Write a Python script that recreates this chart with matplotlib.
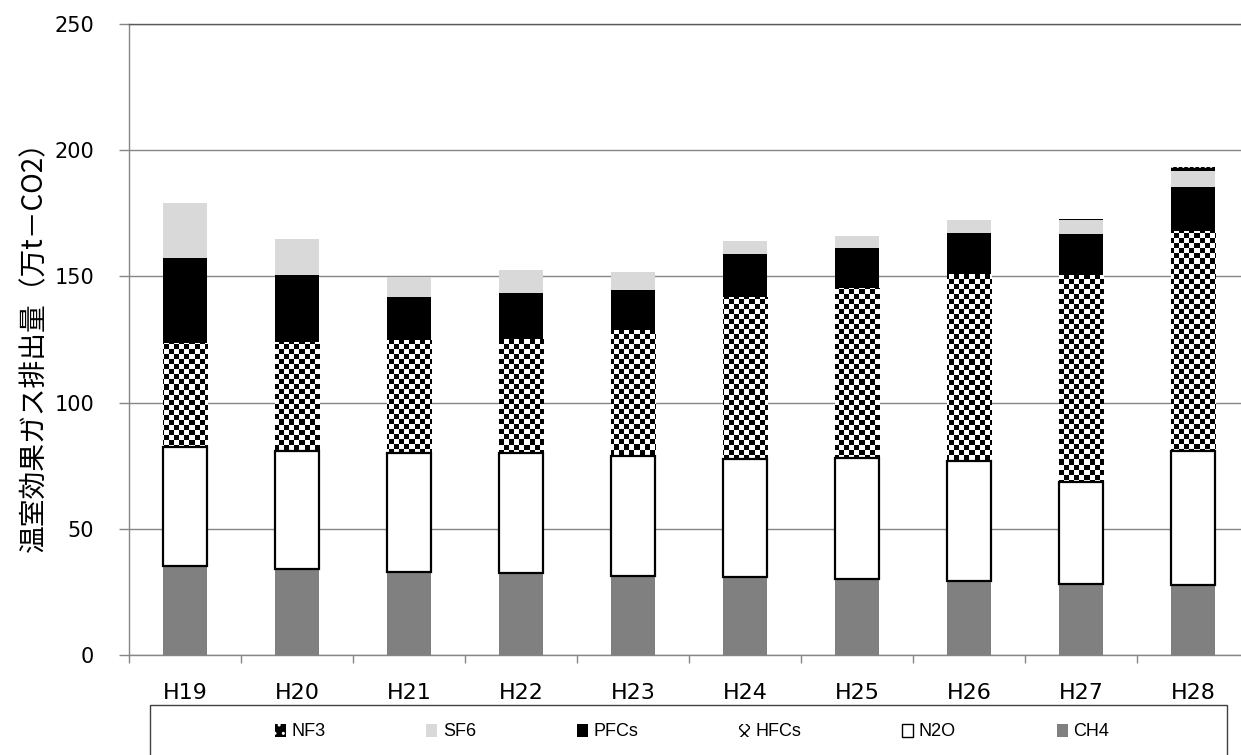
import numpy as np
import matplotlib
matplotlib.use("Agg")
import matplotlib.pyplot as plt
from matplotlib.patches import Patch, Rectangle
from matplotlib.colors import ListedColormap

# ---- data (万t-CO2) ----
cats = ['H19', 'H20', 'H21', 'H22', 'H23', 'H24', 'H25', 'H26', 'H27', 'H28']
ch4 = [35.3, 34.0, 32.9, 32.4, 31.3, 30.8, 30.2, 29.2, 28.3, 27.9]
n2o = [47.2, 46.8, 47.0, 47.6, 47.5, 46.9, 47.9, 47.8, 40.2, 52.8]
hfcs = [41.0, 43.1, 44.9, 45.2, 50.1, 64.0, 67.2, 73.8, 82.1, 87.3]
pfcs = [33.8, 26.5, 16.9, 18.3, 15.6, 17.1, 16.1, 16.5, 16.2, 17.5]
sf6 = [21.9, 14.3, 8.2, 9.0, 7.2, 5.3, 4.6, 5.2, 5.5, 6.4]
nf3 = [0, 0, 0, 0, 0, 0, 0, 0, 0.4, 1.3]
yticks = [0, 50, 100, 150, 200, 250]
ylabel = '温室効果ガス排出量（万t－CO2）'

W, H = 1241, 755
fig = plt.figure(figsize=(W / 100, H / 100), dpi=100)
ax = fig.add_axes([129 / W, 100 / H, 1120 / W, 631 / H])
ax.set_autoscale_on(False)
ax.set_xlim(-0.5, len(cats) - 0.5)
ax.set_ylim(0, 250)

x = np.arange(len(cats))
bw = 0.40
bottom = np.zeros(len(cats))

ax.bar(x, ch4, bw, bottom=bottom, color='#808080', lw=0, zorder=2)
bottom += np.array(ch4)
ax.bar(x, n2o, bw, bottom=bottom, facecolor='white', edgecolor='black', lw=1.6, zorder=3)
bottom += np.array(n2o)
b_hfc = ax.bar(x, hfcs, bw, bottom=bottom, facecolor='white', lw=0, zorder=2)
bottom += np.array(hfcs)
ax.bar(x, pfcs, bw, bottom=bottom, color='black', lw=0, zorder=2)
bottom += np.array(pfcs)
ax.bar(x, sf6, bw, bottom=bottom, color='#d9d9d9', lw=0, zorder=2)
bottom += np.array(sf6)
ax.bar(x, nf3, bw, bottom=bottom, facecolor='black', edgecolor='white', hatch='...', lw=0, zorder=2)

# checkerboard texture for HFCs
cell = 5.0
nx, ny = int(round(1120 / cell)), int(round(631 / cell))
checker = np.indices((ny, nx)).sum(axis=0) % 2
cmap = ListedColormap(['white', 'black'])
for p in b_hfc:
    im = ax.imshow(checker, cmap=cmap, vmin=0, vmax=1, extent=(0, 1, 0, 1),
                   transform=ax.transAxes, interpolation='nearest', aspect='auto', zorder=2.5)
    im.set_clip_path(p)

ax.set_xlim(-0.5, len(cats) - 0.5)
ax.set_ylim(0, 250)

# axes styling
ax.spines['right'].set_visible(False)
for s in ['left', 'bottom', 'top']:
    ax.spines[s].set_color('#868686')
    ax.spines[s].set_linewidth(1)
ax.spines['top'].set_color('#5a5a5a')
ax.set_axisbelow(True)
ax.yaxis.grid(True, color='#868686', lw=1)
ax.set_yticks(yticks)
ax.tick_params(axis='y', length=7, width=1, color='#868686', pad=18, labelsize=15)
ax.set_xticks(x)
ax.set_xticklabels(cats)
ax.set_xticks(np.arange(-0.5, len(cats), 1.0), minor=True)
ax.tick_params(axis='x', which='major', length=0, pad=20, labelsize=16)
ax.tick_params(axis='x', which='minor', length=6, width=1, color='#868686')

fig.text(34 / W, 1 - 340 / H, ylabel, rotation=90, ha='center', va='center',
         fontsize=20, family=['Noto Sans CJK JP', 'DejaVu Sans'])

# legend box
rect = Rectangle((150 / W, -0.05), (1227 - 150) / W, 50 / H + 0.05, transform=fig.transFigure,
                 fill=False, edgecolor='#404040', lw=1)
fig.add_artist(rect)

handles = [
    Patch(facecolor='black', edgecolor='white', hatch='..', lw=0),
    Patch(facecolor='#d9d9d9', lw=0),
    Patch(facecolor='black', lw=0),
    Patch(facecolor='white', edgecolor='black', hatch='xxx', lw=0),
    Patch(facecolor='white', edgecolor='black', lw=1),
    Patch(facecolor='#808080', lw=0),
]
labels = ['NF3', 'SF6', 'PFCs', 'HFCs', 'N2O', 'CH4']
fig.legend(handles, labels, ncol=6, loc='center', bbox_to_anchor=(692 / W, 1 - 732 / H),
           frameon=False, handlelength=0.6, handleheight=0.75,
           handletextpad=0.3, columnspacing=5.6,
           prop={'family': ['Liberation Sans Narrow', 'Liberation Sans', 'DejaVu Sans'], 'size': 13})

fig.savefig('out.png', dpi=100)
